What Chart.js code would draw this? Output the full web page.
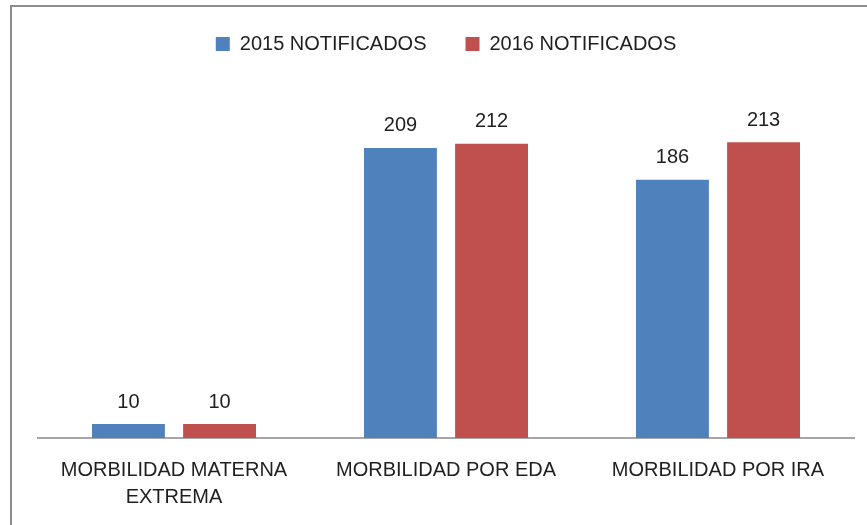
<!DOCTYPE html>
<html>
<head>
<meta charset="utf-8">
<script src="https://cdn.jsdelivr.net/npm/chart.js@4.4.1/dist/chart.umd.min.js"></script>
<style>
    html, body { margin: 0; padding: 0; background: #fff; overflow: hidden; }
    #marco { position: absolute; left: 10px; top: 5px; width: 900px; height: 560px; border: 2px solid #8c8c8c; box-sizing: border-box; }
    #wrap { position: absolute; left: 0; top: 0; width: 867px; height: 525px; }
</style>
</head>
<body>
<div id="marco"></div>
<div id="wrap"><canvas id="grafico"></canvas></div>
<script>
const categorias = [["MORBILIDAD MATERNA", "EXTREMA"], "MORBILIDAD POR EDA", "MORBILIDAD POR IRA"];
const series = ["2015 NOTIFICADOS", "2016 NOTIFICADOS"];
const valores2015 = [10, 209, 186];
const valores2016 = [10, 212, 213];
const colores = ["#4F81BD", "#C0504D"];

// etiquetas de valor encima de cada barra
const etiquetasBarras = {
    id: "etiquetasBarras",
    afterDatasetsDraw(chart) {
        const ctx = chart.ctx;
        ctx.save();
        ctx.font = "20px 'Liberation Sans'";
        ctx.fillStyle = "#1f1f1f";
        ctx.textAlign = "center";
        ctx.textBaseline = "bottom";
        chart.data.datasets.forEach((ds, i) => {
            chart.getDatasetMeta(i).data.forEach((barra, j) => {
                ctx.fillText(ds.data[j], barra.x, barra.y - 12);
            });
        });
        ctx.restore();
    }
};

// altura fija para la leyenda, deja el area del grafico mas abajo
const alturaLeyenda = {
    id: "alturaLeyenda",
    beforeInit(chart) {
        const fitOriginal = chart.legend.fit;
        chart.legend.fit = function () {
            fitOriginal.call(this);
            this.height = 96;
        };
    }
};

const ctx = document.getElementById("grafico").getContext("2d");
new Chart(ctx, {
    type: "bar",
    data: {
        labels: categorias,
        datasets: [
            { label: series[0], data: valores2015, backgroundColor: colores[0] },
            { label: series[1], data: valores2016, backgroundColor: colores[1] }
        ]
    },
    options: {
        responsive: true,
        maintainAspectRatio: false,
        animation: false,
        categoryPercentage: 0.67,
        barPercentage: 0.8,
        layout: { padding: { left: 38, right: 13, top: -5, bottom: 3 } },
        plugins: {
            legend: {
                position: "top",
                labels: {
                    boxWidth: 14,
                    boxHeight: 14,
                    padding: 39,
                    color: "#1f1f1f",
                    font: { family: "'Liberation Sans'", size: 20 }
                }
            },
            tooltip: { enabled: false }
        },
        scales: {
            x: {
                grid: { display: false },
                border: { display: true, color: "#a6a6a6", width: 2 },
                ticks: {
                    color: "#1f1f1f",
                    padding: 11,
                    maxRotation: 0,
                    font: { family: "'Liberation Sans'", size: 20, lineHeight: 1.35 }
                }
            },
            y: {
                display: false,
                min: 0,
                max: 250
            }
        }
    },
    plugins: [etiquetasBarras, alturaLeyenda]
});
</script>
</body>
</html>
